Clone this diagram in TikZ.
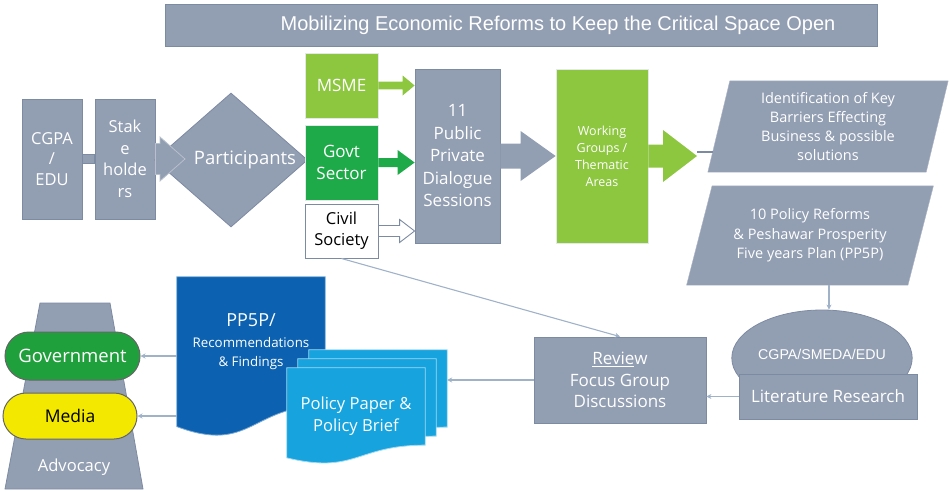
\documentclass[tikz,border=0pt]{standalone}
\usepackage{fontspec}
\setmainfont{Open Sans}
\newfontfamily\arialfont{Liberation Sans}
\usetikzlibrary{shapes.geometric,shapes.misc,calc,arrows.meta}
\pgfdeclarelayer{background}
\pgfsetlayers{background,main}

\definecolor{slate}{RGB}{146,158,178}
\definecolor{slateedge}{RGB}{125,139,162}
\definecolor{leaf}{RGB}{141,198,63}
\definecolor{forest}{RGB}{30,170,72}
\definecolor{govgreen}{RGB}{32,160,60}
\definecolor{navy}{RGB}{12,98,176}
\definecolor{sky}{RGB}{22,163,222}
\definecolor{lemon}{RGB}{242,232,0}
\definecolor{wire}{RGB}{160,178,200}

\newcommand\setfs[2]{\fontsize{#1}{#2}\selectfont}

% horizontal block arrow: style, start, tip, shaft half-width, head half-width, head length
\newcommand\blockarrow[6]{%
  \path[#1] let \p1=(#2), \p2=(#3) in
    (\x1,\y1+#4) -- (\x2-#6,\y1+#4) -- (\x2-#6,\y1+#5) -- (\x2,\y1)
    -- (\x2-#6,\y1-#5) -- (\x2-#6,\y1-#4) -- (\x1,\y1-#4) -- cycle;}

% parallelogram behind a node: node, slant, style
\newcommand\parafill[3]{%
  \begin{pgfonlayer}{background}
  \path[#3] let \p1=(#1.north west), \p2=(#1.south east) in
    ({\x1+#2/2},\y1) -- ({\x2+#2/2},\y1) -- ({\x2-#2/2},\y2) -- ({\x1-#2/2},\y2) -- cycle;
  \end{pgfonlayer}}

% document shape with a wavy bottom behind a node: node, style
\newcommand\docfill[2]{%
  \begin{pgfonlayer}{background}
  \path[#2] let \p1=(#1.north west), \p2=(#1.south east), \n1={\y2-\y1} in
    (\p1) -- (\x2,\y1) -- (\x2,{\y1+0.802*\n1})
    .. controls ({(\x1+\x2)/2},{\y1+0.802*\n1}) and ({(\x1+\x2)/2},{\y1+1.107*\n1}) ..
    (\x1,{\y1+0.934*\n1}) -- cycle;
  \end{pgfonlayer}}

\begin{document}
\begin{tikzpicture}[x=1pt,y=-1pt,
  box/.style={rectangle, draw=slateedge, fill=slate, line width=0.8pt, text=white,
    align=center, inner sep=0pt},
  greenbox/.style={box, draw=white!75!slate},
  conn/.style={draw=wire, line width=1.1pt, -{Stealth[length=5pt,width=5pt]}},
  plainline/.style={draw=wire, line width=1.1pt},
  doc/.style={inner sep=0pt, minimum width=138pt, minimum height=96pt},
  pill/.style={rounded rectangle, draw=black!60, line width=1pt, inner sep=0pt}]

\useasboundingbox (0,0) rectangle (950,493);

% title banner
\node[box, minimum width=712pt, minimum height=42pt] (title) at (521,25) {};
\node[text=white, font=\arialfont\setfs{20}{24}] (titletext) at (558,25)
  {Mobilizing Economic Reforms to Keep the Critical Space Open};

% organisers and stakeholders
\node[box, minimum width=60pt, minimum height=120pt, font=\setfs{16.5}{20.5}] (cgpa) at (52,159) {CGPA\\/\\EDU};
\node[box, minimum width=60pt, minimum height=120pt, font=\setfs{16.5}{21.5}] (stake) at (125,159) {Stak\\e\\holde\\rs};
\path[box] ($(cgpa.east)+(0,-4.5)$) rectangle ($(stake.west)+(0,4.5)$);

\node[diamond, fill=slate, draw=slateedge, line width=0.8pt, minimum width=153pt,
  minimum height=134pt, inner sep=0pt, text=white, font=\setfs{18.5}{22}] (part) at (231,160)
  {\makebox[0pt]{\hspace*{28pt}Participants}};
\coordinate (sptip) at (185,158);
\blockarrow{fill=slate, draw=white!35!slate, line width=0.8pt}{stake.east}{sptip}{15.5pt}{22pt}{25pt}

% participant groups
\node[greenbox, fill=leaf, minimum width=73pt, minimum height=65pt, font=\setfs{17}{21}] (msme) at (341.5,85.5) {MSME};
\node[greenbox, fill=forest, minimum width=73pt, minimum height=75pt, font=\setfs{17}{22}] (govt) at (341.5,162.5) {Govt\\Sector};
\node[box, fill=white, text=black, line width=1pt, minimum width=73pt, minimum height=54pt, font=\setfs{16.5}{21}] (civil) at (341.5,231) {Civil\\Society};

% dialogue sessions and working groups
\node[box, minimum width=85pt, minimum height=174pt, font=\setfs{17}{22.5}] (ppd) at (457.5,156) {11\\Public\\Private\\Dialogue\\Sessions};
\node[greenbox, fill=leaf, minimum width=92pt, minimum height=174pt, font=\setfs{12.5}{17}] (wg) at (602,156) {Working\\Groups /\\Thematic\\Areas};

\blockarrow{fill=leaf}{msme.east}{ppd.west}{3.8pt}{10pt}{12pt}
\blockarrow{fill=forest}{govt.east}{ppd.west}{4.5pt}{12.5pt}{17pt}
\blockarrow{fill=white, draw=slateedge, line width=0.9pt}{civil.east}{ppd.west}{5.5pt}{11.5pt}{15pt}
\blockarrow{fill=slate}{ppd.east}{wg.west}{12.5pt}{25pt}{35pt}
\coordinate (wgtip) at (697,152);
\blockarrow{fill=leaf}{wg.east}{wgtip}{11.5pt}{26pt}{34pt}

% outcomes
\node[text=white, align=center, inner sep=0pt, minimum width=218pt, minimum height=91pt,
  font=\setfs{14.5}{19}] (key) at (828,126.5) {Identification of Key\\Barriers Effecting\\Business \& possible\\solutions};
\parafill{key}{22pt}{fill=slate, draw=white!25!slate}
\node[text=white, align=center, inner sep=0pt, minimum width=221pt, minimum height=99pt,
  font=\setfs{14.5}{19.5}] (pol) at (810,235.5) {10 Policy Reforms\\\& Peshawar Prosperity\\Five years Plan (PP5P)};
\parafill{pol}{25.5pt}{fill=slate, draw=white!25!slate}
\coordinate (keyedge) at ($(key.west)+(-6,25.5)$);
\draw[plainline, draw=slateedge] (wgtip) -- (keyedge);

% research and review
\node[ellipse, fill=slate, draw=slateedge, line width=0.8pt, minimum width=140pt, minimum height=96pt,
  inner sep=0pt, text=white, font=\arialfont\setfs{14.2}{17}] (src) at (822,358) {\raisebox{8pt}{CGPA/SMEDA/EDU}};
\node[box, minimum width=178pt, minimum height=45pt, font=\setfs{17}{20}] (lit) at (828,396.5) {Literature Research};
\node[box, minimum width=172pt, minimum height=86pt, font=\setfs{17}{21.5}] (review) at (620,380) {\underline{Revie}w\\Focus Group\\Discussions};

\coordinate (polB) at ($(pol.south)+(19,0)$);
\draw[conn] (polB) -- (polB |- src.north);
\draw[conn] (lit.west) -- (review.east |- lit.west);
\draw[conn] (civil.south) -- (review.north);

% reports
\node[inner sep=0pt, minimum width=148pt, minimum height=160pt] (rec) at (251,357) {};
\docfill{rec}{fill=navy, draw=white!45!navy, line width=0.8pt}
\node[text=white, align=center, inner sep=0pt, font=\setfs{13.3}{19.5}] (rectext) at (251,342)
  {{\setfs{18}{22}PP5P/}\\[1pt]Recommendations\\\& Findings};

\node[doc] (pb3) at (378,398) {};
\docfill{pb3}{fill=sky, draw=white!60!sky, line width=0.8pt}
\node[doc] (pb2) at (367,407) {};
\docfill{pb2}{fill=sky, draw=white!60!sky, line width=0.8pt}
\node[doc, text=white, align=center, font=\setfs{16.6}{22}] (pb1) at (356,416) {Policy Paper \&\\Policy Brief};
\docfill{pb1}{fill=sky, draw=white!60!sky, line width=0.8pt}

\draw[conn] (review.west) -- (pb3.east |- review.west);

% advocacy
\path[fill=slate, draw=slateedge, line width=0.8pt] (40,303) -- (110,303) -- (143,489) -- (5,489) -- cycle;
\node[text=white, font=\setfs{16.6}{20}] (adv) at (74,467) {Advocacy};
\node[pill, fill=govgreen, text=white, minimum width=135pt, minimum height=48pt, font=\setfs{18.5}{22}] (gov) at (72.5,356) {Government};
\node[pill, fill=lemon, text=black, minimum width=134pt, minimum height=46pt, font=\setfs{17.5}{21}] (media) at (70,416) {Media};

\draw[conn] (rec.west |- gov.east) -- (gov.east);
\draw[conn] (rec.west |- media.east) -- (media.east);

\end{tikzpicture}
\end{document}
